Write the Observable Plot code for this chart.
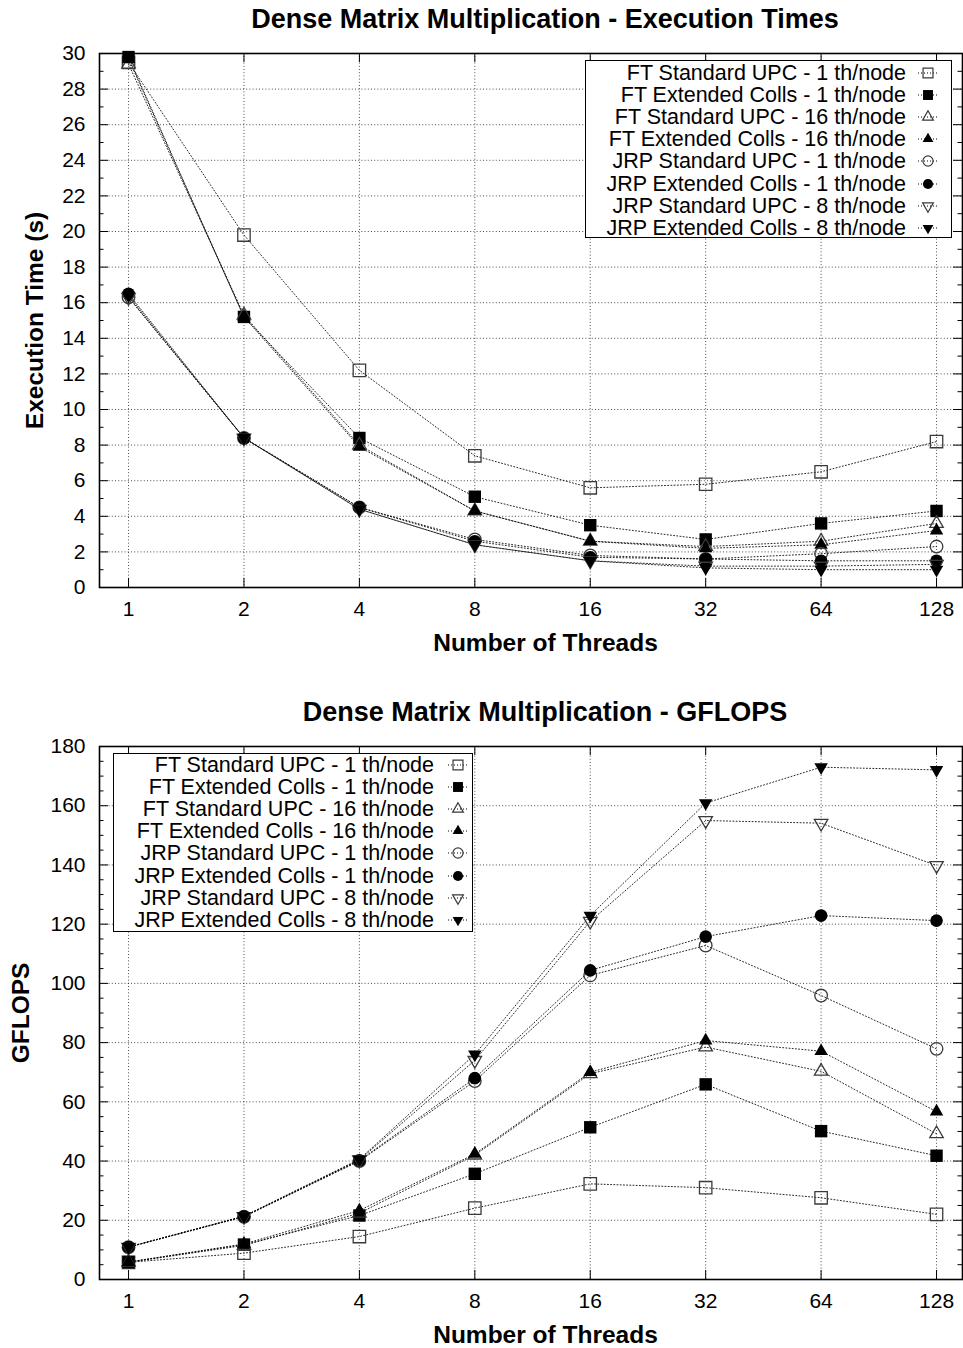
<!DOCTYPE html>
<html><head><meta charset="utf-8">
<script src="https://cdn.jsdelivr.net/npm/d3@7"></script>
<script src="https://cdn.jsdelivr.net/npm/@observablehq/plot@0.6"></script>
<style>
body{margin:0;background:#fff;font-family:"Liberation Sans",Arial,sans-serif;}
#page{position:relative;width:963px;height:1348px;overflow:hidden;}
.title{position:absolute;left:127px;width:836px;height:38px;line-height:38px;text-align:center;font-weight:bold;font-size:27px;color:#000;}
.chart{position:absolute;left:0;}
.legend{position:absolute;border:1.3px solid #000;background:#fff;box-sizing:border-box;}
.row{position:absolute;left:0;height:22px;font-size:21.5px;white-space:nowrap;color:#000;}
.row .lab{position:absolute;left:0;top:0;display:block;height:22px;line-height:22px;text-align:right;overflow:visible;}
.row svg{position:absolute;top:1px;}
</style></head><body><div id="page"></div>
<script>
// ---------- data ----------
const threads = [1, 2, 4, 8, 16, 32, 64, 128];
const threadLabels = ["1", "2", "4", "8", "16", "32", "64", "128"];
const seriesLabels = [
  "FT Standard UPC - 1 th/node",
  "FT Extended Colls - 1 th/node",
  "FT Standard UPC - 16 th/node",
  "FT Extended Colls - 16 th/node",
  "JRP Standard UPC - 1 th/node",
  "JRP Extended Colls - 1 th/node",
  "JRP Standard UPC - 8 th/node",
  "JRP Extended Colls - 8 th/node"
];
// Execution times (s)
const timeFtStd1   = [29.5, 19.8, 12.2, 7.4, 5.6, 5.8, 6.5, 8.2];
const timeFtExt1   = [29.8, 15.2, 8.4, 5.1, 3.5, 2.7, 3.6, 4.3];
const timeFtStd16  = [29.4, 15.3, 8.0, 4.3, 2.6, 2.3, 2.6, 3.6];
const timeFtExt16  = [29.7, 15.2, 7.9, 4.3, 2.6, 2.2, 2.4, 3.2];
const timeJrpStd1  = [16.3, 8.4, 4.5, 2.7, 1.8, 1.6, 1.9, 2.3];
const timeJrpExt1  = [16.5, 8.4, 4.5, 2.6, 1.7, 1.6, 1.5, 1.5];
const timeJrpStd8  = [16.3, 8.4, 4.4, 2.4, 1.5, 1.2, 1.2, 1.3];
const timeJrpExt8  = [16.4, 8.4, 4.4, 2.4, 1.5, 1.1, 1.0, 1.0];
// GFLOPS
const gfFtStd1   = [5.8, 8.9, 14.5, 24.1, 32.3, 31.0, 27.6, 22.0];
const gfFtExt1   = [5.9, 11.8, 21.6, 35.7, 51.4, 65.9, 50.1, 41.8];
const gfFtStd16  = [5.8, 11.5, 22.4, 42.0, 69.5, 78.5, 70.3, 49.2];
const gfFtExt16  = [5.9, 12.0, 23.3, 42.4, 70.0, 80.7, 77.1, 56.7];
const gfJrpStd1  = [10.9, 21.2, 40.0, 67.0, 102.7, 112.8, 95.9, 77.9];
const gfJrpExt1  = [11.0, 21.3, 40.2, 68.0, 104.4, 115.8, 122.9, 121.2];
const gfJrpStd8  = [10.9, 21.3, 40.4, 74.0, 121.0, 155.0, 154.1, 139.8];
const gfJrpExt8  = [11.0, 21.4, 40.6, 76.0, 122.9, 160.9, 173.0, 172.1];
// ticks
const timeTicks  = [0, 2, 4, 6, 8, 10, 12, 14, 16, 18, 20, 22, 24, 26, 28, 30];
const timeMinor  = [1, 3, 5, 7, 9, 11, 13, 15, 17, 19, 21, 23, 25, 27, 29];
const gfTicks    = [0, 20, 40, 60, 80, 100, 120, 140, 160, 180];
const gfMinor    = [5, 10, 15, 25, 30, 35, 45, 50, 55, 65, 70, 75, 85, 90, 95, 105, 110, 115, 125, 130, 135, 145, 150, 155, 165, 170, 175];

// ---------- styles ----------
const triDown = {
  draw(context, size) {
    const y = -Math.sqrt(size / (Math.sqrt(3) * 3));
    context.moveTo(0, -y * 2);
    context.lineTo(-Math.sqrt(3) * y, y);
    context.lineTo(Math.sqrt(3) * y, y);
    context.closePath();
  }
};
const OPEN = "#3a3a3a";
const markerStyles = [
  {symbol: "square",   fill: "none", stroke: OPEN, r: 7.0},
  {symbol: "square",   fill: "#000", stroke: "none", r: 7.0},
  {symbol: "triangle", fill: "none", stroke: OPEN, r: 5.0},
  {symbol: "triangle", fill: "#000", stroke: "none", r: 5.0},
  {symbol: "circle",   fill: "none", stroke: OPEN, r: 6.3},
  {symbol: "circle",   fill: "#000", stroke: "none", r: 6.3},
  {symbol: triDown,    fill: "none", stroke: OPEN, r: 5.0},
  {symbol: triDown,    fill: "#000", stroke: "none", r: 5.0}
];
const d3Sym = {square: d3.symbolSquare, triangle: d3.symbolTriangle, circle: d3.symbolCircle};

const FONT = '"Liberation Sans", Arial, sans-serif';
const W = 963, ML = 99, MR = 1;
const XDOMAIN = [0.84, 149.6];

function makeChart({series, yDomain, yTicks, yMinor, height, marginTop, marginBottom, ylabel, ylabelDx}) {
  const innerW = W - ML - MR;
  const innerH = height - marginTop - marginBottom;
  const rows = series.flatMap((arr, s) => arr.map((v, k) => ({s, t: threads[k], v})));
  const gridStyle = {stroke: "#000", strokeOpacity: 0.7, strokeWidth: 1, strokeDasharray: "1,2.2"};
  const marks = [
    Plot.ruleY(yTicks.slice(1, -1), {y: d => d, ...gridStyle}),
    Plot.ruleX(threads, {x: d => d, ...gridStyle}),
    // inward ticks, four sides
    Plot.tickY(yTicks, {y: d => d, insetRight: innerW - 9, stroke: "#000"}),
    Plot.tickY(yTicks, {y: d => d, insetLeft: innerW - 9, stroke: "#000"}),
    Plot.tickY(yMinor, {y: d => d, insetRight: innerW - 4.5, stroke: "#000"}),
    Plot.tickY(yMinor, {y: d => d, insetLeft: innerW - 4.5, stroke: "#000"}),
    Plot.tickX(threads, {x: d => d, insetTop: innerH - 9, stroke: "#000"}),
    Plot.tickX(threads, {x: d => d, insetBottom: innerH - 9, stroke: "#000"}),
    Plot.line(rows, {x: "t", y: "v", z: "s", stroke: "#000", strokeOpacity: 0.85, strokeWidth: 1, strokeDasharray: "1,2.2"}),
  ];
  series.forEach((arr, s) => {
    const st = markerStyles[s];
    marks.push(Plot.dot(rows.filter(d => d.s === s), {
      x: "t", y: "v", symbol: st.symbol, r: st.r,
      fill: st.fill, stroke: st.stroke, strokeWidth: st.fill === "none" ? 1.3 : 0
    }));
  });
  marks.push(
    Plot.frame({stroke: "#000", strokeWidth: 1.6}),
    Plot.axisY(yTicks, {tickSize: 0, tickPadding: 14, label: null, fontSize: 21}),
    Plot.axisX(threads, {tickSize: 0, tickPadding: 14, label: null, fontSize: 21,
      tickFormat: d => threadLabels[threads.indexOf(d)]}),
    Plot.text(["Number of Threads"], {text: d => d, frameAnchor: "bottom", dy: 56, dx: 14.5,
      textAnchor: "middle", lineAnchor: "middle", fontWeight: "bold", fontSize: 24.5}),
    Plot.text([ylabel], {text: d => d, frameAnchor: "left", dx: ylabelDx, rotate: -90,
      textAnchor: "middle", lineAnchor: "middle", fontWeight: "bold", fontSize: 24.5})
  );
  return Plot.plot({
    width: W, height, marginLeft: ML, marginRight: MR, marginTop, marginBottom,
    style: {fontFamily: FONT, fontSize: "21px", color: "#000", background: "#fff", overflow: "visible"},
    x: {type: "log", base: 2, domain: XDOMAIN},
    y: {domain: yDomain},
    marks
  });
}

function makeLegend(page, {left, top, width, height, firstRow, textRight, symX}) {
  const box = document.createElement("div");
  box.className = "legend";
  Object.assign(box.style, {left: left + "px", top: top + "px", width: width + "px", height: height + "px"});
  seriesLabels.forEach((lab, i) => {
    const row = document.createElement("div");
    row.className = "row";
    row.style.top = (firstRow + 22.1 * i - top - 11 - 1) + "px";
    row.style.width = width + "px";
    const t = document.createElement("span");
    t.className = "lab";
    t.style.width = (textRight - left) + "px";
    t.textContent = lab;
    row.appendChild(t);
    const st = markerStyles[i];
    const svg = d3.create("svg").attr("width", 40).attr("height", 20)
      .style("left", (symX - left - 20 - 1) + "px");
    svg.append("line").attr("x1", 10).attr("x2", 30).attr("y1", 10).attr("y2", 10)
      .attr("stroke", "#000").attr("stroke-dasharray", "1,2");
    const type = typeof st.symbol === "string" ? d3Sym[st.symbol] : st.symbol;
    const size = Math.PI * (st.r * 0.8) ** 2;
    svg.append("path").attr("transform", "translate(20,10)")
      .attr("d", d3.symbol().type(type).size(size)())
      .attr("fill", st.fill).attr("stroke", st.stroke)
      .attr("stroke-width", st.fill === "none" ? 1.2 : 0);
    row.appendChild(svg.node());
    box.appendChild(row);
  });
  page.appendChild(box);
}

const page = document.getElementById("page");

const t1 = document.createElement("div");
t1.className = "title"; t1.style.top = "0px";
t1.textContent = "Dense Matrix Multiplication - Execution Times";
page.appendChild(t1);

const c1 = makeChart({
  series: [timeFtStd1, timeFtExt1, timeFtStd16, timeFtExt16, timeJrpStd1, timeJrpExt1, timeJrpStd8, timeJrpExt8],
  yDomain: [0, 30], yTicks: timeTicks, yMinor: timeMinor,
  height: 652, marginTop: 15, marginBottom: 103,
  ylabel: "Execution Time (s)", ylabelDx: -64
});
c1.classList.add("chart"); c1.style.top = "38px";
page.appendChild(c1);

const t2 = document.createElement("div");
t2.className = "title"; t2.style.top = "693px";
t2.textContent = "Dense Matrix Multiplication - GFLOPS";
page.appendChild(t2);

const c2 = makeChart({
  series: [gfFtStd1, gfFtExt1, gfFtStd16, gfFtExt16, gfJrpStd1, gfJrpExt1, gfJrpStd8, gfJrpExt8],
  yDomain: [0, 180], yTicks: gfTicks, yMinor: gfMinor,
  height: 614, marginTop: 12, marginBottom: 69,
  ylabel: "GFLOPS", ylabelDx: -78
});
c2.classList.add("chart"); c2.style.top = "734px";
page.appendChild(c2);

makeLegend(page, {left: 585, top: 60, width: 367, height: 178, firstRow: 73, textRight: 905, symX: 928});
makeLegend(page, {left: 113, top: 753, width: 360, height: 179, firstRow: 765, textRight: 433, symX: 458});
</script></body></html>
